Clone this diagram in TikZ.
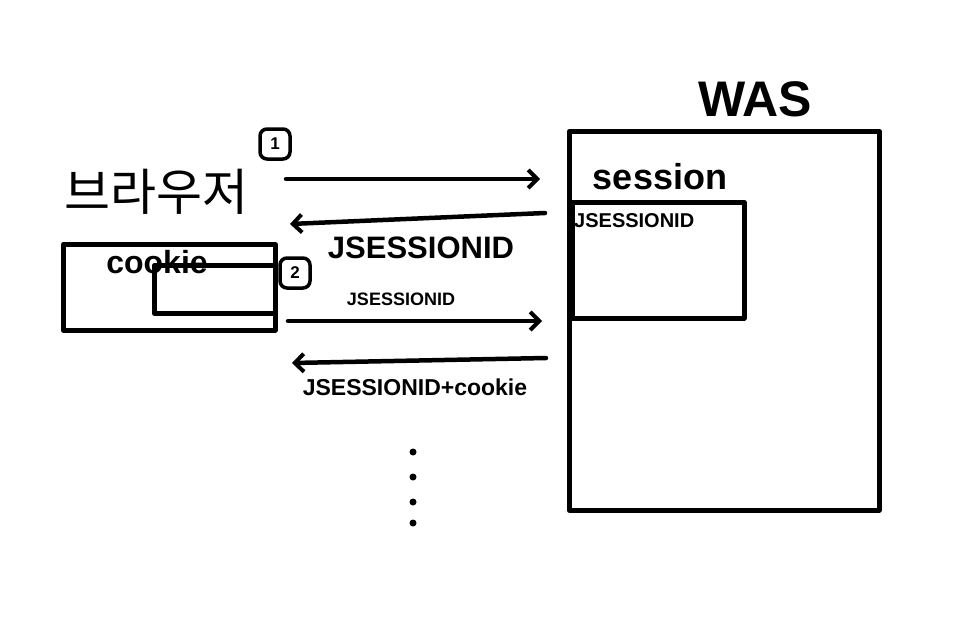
\documentclass[tikz,border=0pt]{standalone}
\usepackage{fontspec}
\setmainfont{Liberation Sans}
\newfontfamily\krfont{Noto Sans CJK KR}
\usetikzlibrary{arrows.meta}

\begin{document}
\begin{tikzpicture}[x=1pt,y=-1pt,every node/.style={inner sep=0pt,font=\bfseries},
		pen/.style={line width=4.5pt,line cap=round,line join=round},
		msg/.style={pen,-{Straight Barb[length=9pt,width=18pt,line width=4pt]}},
		num/.style={draw,line width=3.5pt,rounded corners=7pt,minimum size=30pt,font=\fontsize{17}{17}\selectfont\bfseries}]
		\useasboundingbox (0,0) rectangle (967,621);
		% server side
		\node (was) at (755,99) {\fontsize{50}{50}\selectfont WAS};
		\node[draw,pen,anchor=north west,minimum width=310pt,minimum height=379pt] (server) at (567,129) {};
		\node (session) at (660,177) {\fontsize{36}{36}\selectfont session};
		\node[draw,pen,anchor=north west,minimum width=172pt,minimum height=116pt] (store) at (570,200) {};
		\node[anchor=north west] (storeid) at (574,213) {\fontsize{20}{20}\selectfont JSESSIONID};
		% browser side
		\node[font=\mdseries] (browser) at (156,192) {\krfont\fontsize{50}{50}\selectfont 브라우저};
		\node[draw,pen,anchor=north west,minimum width=212pt,minimum height=86pt] (client) at (61,242) {};
		\node (cookie) at (157,262) {\fontsize{32}{32}\selectfont cookie};
		\node[draw,pen,anchor=north west,minimum width=121pt,minimum height=48pt] (jar) at (152,263) {};
		\node[num] (n1) at (275,144) {1};
		\node[num] (n2) at (295,273) {2};
		% messages
		\coordinate (b1) at (286,179); \coordinate (s1) at (540,179);
		\coordinate (s2) at (545,213); \coordinate (b2) at (290,224);
		\coordinate (b3) at (288,321); \coordinate (s3) at (542,321);
		\coordinate (s4) at (546,358); \coordinate (b4) at (292,363);
		\draw[msg] (b1) -- (s1);
		\draw[msg] (s2) -- (b2);
		\draw[msg] (b3) -- (s3);
		\draw[msg] (s4) -- (b4);
		\node (id2) at (421,248) {\fontsize{31}{31}\selectfont JSESSIONID};
		\node (id3) at (401,299) {\fontsize{18}{18}\selectfont JSESSIONID};
		\node (id4) at (415,387) {\fontsize{23}{23}\selectfont JSESSIONID+cookie};
		\foreach \y [count=\i] in {452,477,502,523}
			\fill (413,\y) circle (3.5pt);
	\end{tikzpicture}
\end{document}
